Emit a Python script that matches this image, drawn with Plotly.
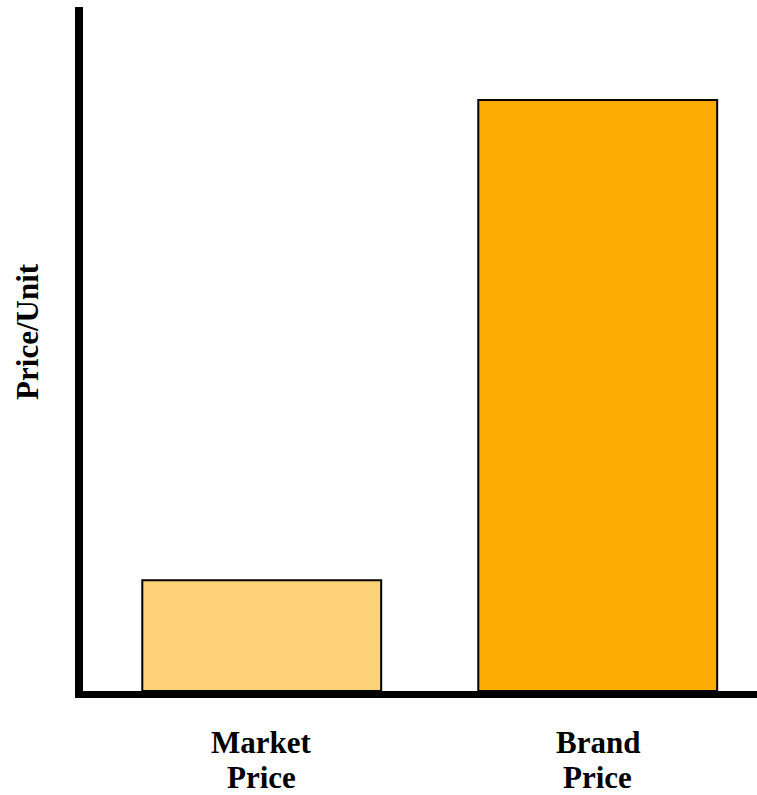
import plotly.graph_objects as go

# Price comparison: commodity market price vs branded price (relative units)
categories = [["Market", "Price"], ["Brand", "Price"]]
prices = [16.2, 86.4]
bar_colors = ["#FDD176", "#FFAB05"]
y_title = "Price/Unit"

font_family = "Liberation Serif, Times New Roman, serif"
label_font = dict(family=font_family, size=31, weight="bold", color="black")

x_pos = list(range(len(categories)))

fig = go.Figure(
    go.Bar(
        x=x_pos,
        y=prices,
        width=0.711,
        marker=dict(color=bar_colors, line=dict(color="black", width=2)),
        hoverinfo="skip",
    )
)

# Category labels: one annotation per line, stacked under the axis
annotations = []
line_shifts = [-51, -86]
for xi, lines in zip(x_pos, categories):
    for text, shift in zip(lines, line_shifts):
        annotations.append(
            dict(
                text=text,
                xref="x",
                yref="paper",
                x=xi,
                y=0,
                xanchor="center",
                yanchor="middle",
                yshift=shift,
                showarrow=False,
                font=label_font,
            )
        )

annotations.append(
    dict(
        text=y_title,
        textangle=-90,
        xref="paper",
        yref="paper",
        x=0,
        y=0.525,
        xanchor="center",
        yanchor="middle",
        xshift=-55,
        showarrow=False,
        font=label_font,
    )
)

fig.update_layout(
    width=757,
    height=795,
    margin=dict(l=83, r=0, t=7, b=104),
    paper_bgcolor="white",
    plot_bgcolor="white",
    showlegend=False,
    font=dict(family=font_family, color="black"),
    annotations=annotations,
)

fig.update_xaxes(
    range=[-0.532, 1.474],
    showticklabels=False,
    ticks="",
    automargin=False,
    showgrid=False,
    zeroline=False,
    showline=True,
    linecolor="black",
    linewidth=7,
    fixedrange=True,
)

fig.update_yaxes(
    range=[0, 100],
    showticklabels=False,
    ticks="",
    automargin=False,
    showgrid=False,
    zeroline=False,
    showline=True,
    linecolor="black",
    linewidth=8,
    fixedrange=True,
)

fig.write_html("out.html")
